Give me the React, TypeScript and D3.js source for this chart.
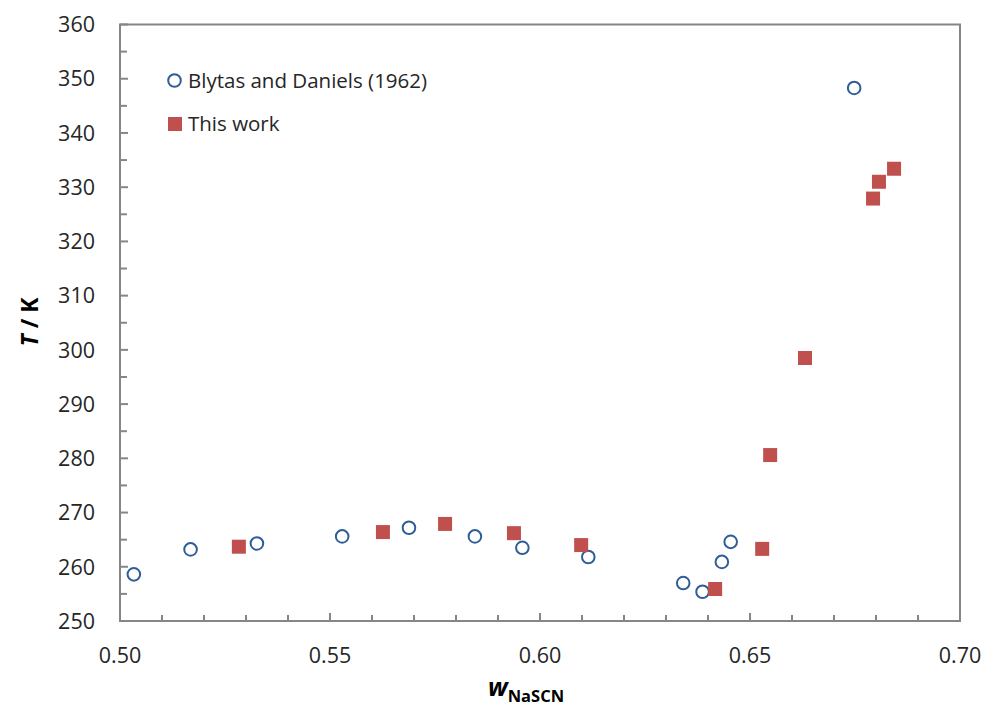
import React, { useEffect, useRef } from "react";
import * as d3 from "d3";

const blytasW = [0.5033, 0.5168, 0.5326, 0.5529, 0.5688, 0.5845, 0.5958, 0.6115, 0.6341, 0.6387, 0.6433, 0.6454, 0.6748];
const blytasT = [258.6, 263.2, 264.3, 265.6, 267.2, 265.6, 263.5, 261.8, 257.0, 255.4, 260.9, 264.6, 348.3];
const thisW = [0.5283, 0.5626, 0.5774, 0.5938, 0.6098, 0.6417, 0.6529, 0.6548, 0.6631, 0.6793, 0.6807, 0.6843];
const thisT = [263.7, 266.4, 267.9, 266.2, 264.0, 255.9, 263.3, 280.6, 298.5, 327.9, 331.0, 333.4];
const xTicks = [0.5, 0.55, 0.6, 0.65, 0.7];
const yTicks = [250, 260, 270, 280, 290, 300, 310, 320, 330, 340, 350, 360];
const seriesNames = ["Blytas and Daniels (1962)", "This work"];

const W = 986, H = 709;
const L = 120, R = 960, T = 24.5, B = 621;
const FONT = "'Open Sans', 'Noto Sans', sans-serif";
const AXIS = "#868686";
const BLUE = "#2F5D96";
const RED = "#C0504D";

export default function App() {
  const ref = useRef<SVGSVGElement>(null);
  useEffect(() => {
    const svg = d3.select(ref.current);
    svg.selectAll("*").remove();
    const x = d3.scaleLinear().domain([0.5, 0.7]).range([L, R]);
    const y = d3.scaleLinear().domain([250, 360]).range([B, T]);

    // frame
    svg.append("rect").attr("x", L).attr("y", T).attr("width", R - L).attr("height", B - T)
      .attr("fill", "none").attr("stroke", AXIS).attr("stroke-width", 2);

    // x ticks
    const xMinor = d3.range(0, 21).map(i => 0.5 + i * 0.01);
    xMinor.forEach((v, i) => {
      const major = i % 5 === 0;
      svg.append("line").attr("x1", x(v)).attr("x2", x(v)).attr("y1", B).attr("y2", B - (major ? 8 : 6))
        .attr("stroke", AXIS).attr("stroke-width", 2);
    });
    const yMinor = d3.range(0, 23).map(i => 250 + i * 5);
    yMinor.forEach((v, i) => {
      const major = i % 2 === 0;
      svg.append("line").attr("y1", y(v)).attr("y2", y(v)).attr("x1", L).attr("x2", L + (major ? 8 : 7))
        .attr("stroke", AXIS).attr("stroke-width", 2);
    });

    svg.append("g").selectAll("text").data(xTicks).join("text")
      .attr("x", d => x(d)).attr("y", 663).attr("text-anchor", "middle")
      .attr("font-family", FONT).attr("font-size", 21.5).attr("fill", "#262626")
      .text(d => d3.format(".2f")(d));
    svg.append("g").selectAll("text").data(yTicks).join("text")
      .attr("x", 95).attr("y", d => y(d)).attr("dy", "0.36em").attr("text-anchor", "end")
      .attr("font-family", FONT).attr("font-size", 21.5).attr("fill", "#262626")
      .text(d => String(d));

    // axis titles
    const yt = svg.append("text").attr("transform", `translate(38,322) rotate(-90)`)
      .attr("text-anchor", "middle").attr("font-family", FONT).attr("font-size", 23)
      .attr("font-weight", "bold").attr("fill", "#000");
    yt.append("tspan").attr("font-style", "italic").text("T");
    yt.append("tspan").text(" / K");

    const xt = svg.append("text").attr("x", 488).attr("y", 696)
      .attr("font-family", FONT).attr("font-weight", "bold").attr("fill", "#000");
    xt.append("tspan").attr("font-size", 25).attr("font-style", "italic").text("w");
    xt.append("tspan").attr("font-size", 16.5).attr("dy", 6).text("NaSCN");

    // data
    const bd = blytasW.map((w, i) => ({ w, t: blytasT[i] }));
    const tw = thisW.map((w, i) => ({ w, t: thisT[i] }));
    svg.append("g").selectAll("circle").data(bd).join("circle")
      .attr("cx", d => x(d.w)).attr("cy", d => y(d.t)).attr("r", 6.3)
      .attr("fill", "none").attr("stroke", BLUE).attr("stroke-width", 2);
    svg.append("g").selectAll("rect").data(tw).join("rect")
      .attr("x", d => x(d.w) - 7).attr("y", d => y(d.t) - 7).attr("width", 14).attr("height", 14)
      .attr("fill", RED);

    // legend
    svg.append("circle").attr("cx", 174.5).attr("cy", 80.5).attr("r", 6.3)
      .attr("fill", "none").attr("stroke", BLUE).attr("stroke-width", 2);
    svg.append("rect").attr("x", 168).attr("y", 117).attr("width", 14).attr("height", 14).attr("fill", RED);
    svg.append("text").attr("x", 188).attr("y", 80.5).attr("dy", "0.36em")
      .attr("font-family", FONT).attr("font-size", 20.5).attr("fill", "#262626").text(seriesNames[0]);
    svg.append("text").attr("x", 188).attr("y", 124).attr("dy", "0.36em")
      .attr("font-family", FONT).attr("font-size", 20.5).attr("fill", "#262626").text(seriesNames[1]);
  }, []);
  return (
    <svg ref={ref} width={W} height={H}
      style={{ position: "absolute", left: 0, top: 0, background: "#fff" }} />
  );
}
